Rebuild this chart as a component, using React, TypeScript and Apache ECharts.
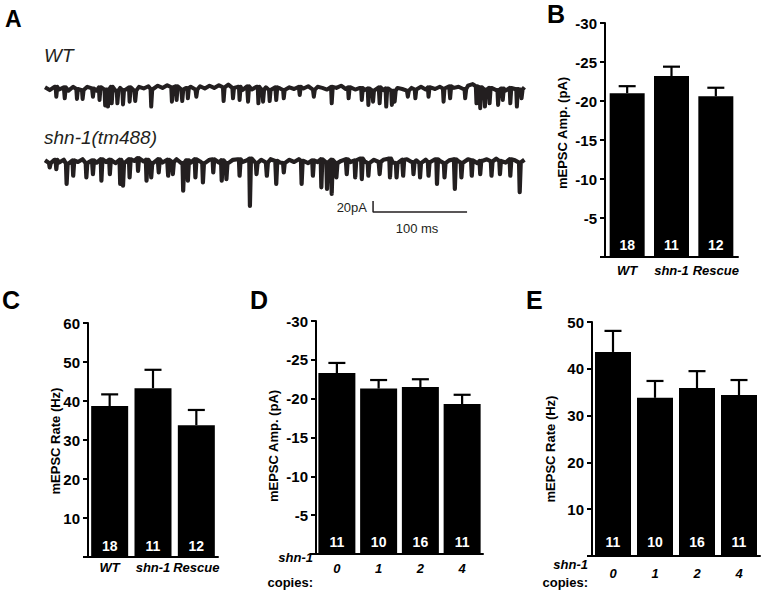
import React, { useEffect, useRef } from "react";
import * as echarts from "echarts";

const FONT = "'Liberation Sans', Arial, Helvetica, sans-serif";
const INK = "#231f20";

// ---------- Panel A: current traces (ms, pA) ----------
const traceSampleMs = 5;
const wtBaseline = [
  3, -2, 4, -1, 3, -3, 4, 0, -2, 4, 1,
  -3, 3, -1, 4, -3, 2, -2, 3, -3, 4,
  1, 5, 0, 6, 2, 7, 3, 5, -1, 2,
  4, -1, 5, 1, 6, 2, 7, 3, 8, 2,
  4, -2, 5, -1, 4, -1, 3, -2, 3, 1,
  -2, 3, 0, 4, 1, 5, -1, 4, 2, -1,
  4, 2, 6, 0, 3, -1, 2, -2, 1, -3,
  3, -2, 1, -3, 2, 0, -3, 2, -1, 4,
  -1, 3, 0, 4, 1, 5, 2, 4, 0, 6,
  9, 5, 3, -1, 2, -2, 1, -3, 2, 0,
  -1, 3,
];
const wtSpikeTimes = [
  12, 21, 34, 40, 51, 58, 64, 67, 71, 77, 83, 90, 96, 113, 135, 140, 146, 152, 161,
  190, 200, 207, 216, 227, 232, 239, 246, 254, 271, 286, 305, 323, 337, 344, 349,
  356, 363, 369, 372, 386, 394, 408, 424, 431, 447, 459, 463, 468, 473, 482, 487,
  495, 502, 507,
];
const wtSpikeDepths = [
  14, 17, 18, 18, 14, 20, 30, 32, 26, 26, 28, 23, 22, 32, 23, 20, 22, 17, 14,
  22, 17, 20, 23, 26, 23, 22, 20, 17, 11, 14, 26, 17, 20, 29, 23,
  26, 32, 29, 23, 14, 17, 14, 23, 17, 17, 26, 35, 32, 26, 29, 20,
  26, 32, 17,
];
const shnBaseline = [
  3, -2, 4, -1, 4, -3, 3, 0, 5, -2, 3,
  -1, 5, 0, 4, -2, 4, -1, 5, 2, 7,
  1, 4, -2, 5, -1, 4, 0, 5, -2, 3,
  -1, 5, 1, -2, 4, 5, -1, 3, -2, 4,
  5, 0, 3, 6, -2, 4, -1, 5, 2, -1,
  -2, 4, 0, 5, 2, -2, 3, 0, 5, -1,
  4, -2, 2, 5, 0, 3, 6, 1, -2, 4,
  0, 4, 6, -1, -2, 4, 5, 0, 3, -2,
  4, 0, 5, 2, -2, 3, 5, 1, -1, 5,
  3, -2, 2, 5, 1, 6, 2, -1, 5, 3,
  -1, 4,
];
const shnSpikeTimes = [
  5, 12, 23, 30, 44, 51, 60, 69, 80, 83, 90, 99, 108, 113, 121, 131, 136, 147, 152,
  160, 168, 179, 188, 193, 207, 218, 225, 236, 246, 254, 273, 285, 294, 300, 305,
  310, 321, 330, 337, 344, 356, 367, 374, 381, 392, 399, 408, 417, 425, 436, 443,
  454, 463, 475, 484, 495, 505,
];
const shnSpikeDepths = [
  10, 13, 40, 25, 28, 22, 34, 22, 40, 43, 28, 16, 34, 28, 19, 25, 22, 52, 34,
  28, 37, 19, 34, 31, 25, 80, 22, 25, 40, 19, 40, 25, 46, 49, 58,
  28, 22, 28, 31, 25, 22, 28, 28, 25, 22, 28, 25, 40, 28, 49, 28,
  25, 22, 25, 22, 25, 55,
];
const scaleBarTimes = [349, 349, 449];
const scaleBarCurrents = [-71, -91, -91];

// ---------- Panel B ----------
const bCategories = ["WT", "shn-1", "Rescue"];
const bAmp = [-21.0, -23.2, -20.6];
const bAmpSem = [0.9, 1.2, 1.1];
const bN = [18, 11, 12];

// ---------- Panel C ----------
const cCategories = ["WT", "shn-1", "Rescue"];
const cRate = [38.7, 43.3, 33.8];
const cRateSem = [3.0, 4.7, 3.9];
const cN = [18, 11, 12];

// ---------- Panel D ----------
const dCopies = ["0", "1", "2", "4"];
const dAmp = [-23.3, -21.3, -21.5, -19.3];
const dAmpSem = [1.3, 1.1, 1.0, 1.2];
const dN = [11, 10, 16, 11];

// ---------- Panel E ----------
const eCopies = ["0", "1", "2", "4"];
const eRate = [43.6, 33.8, 35.9, 34.4];
const eRateSem = [4.5, 3.6, 3.6, 3.2];
const eN = [11, 10, 16, 11];

function buildTrace(baseline: number[], times: number[], depths: number[]) {
  const pts: number[][] = baseline.map((v, i) => [i * traceSampleMs, v]);
  times.forEach((t, k) => {
    const b = baseline[Math.min(baseline.length - 1, Math.round(t / traceSampleMs))];
    pts.push([t - 0.7, b], [t, -depths[k]], [t + 1.1, b]);
  });
  pts.sort((a, b) => a[0] - b[0]);
  return pts;
}

type PanelCfg = {
  idx: number;
  cats: string[];
  vals: number[];
  sems: number[];
  ns: number[];
  grid: { left: number; top: number; width: number; height: number };
  min: number;
  max: number;
  interval: number;
  inverse: boolean;
  barWidth: number;
  labelMargin: number;
  labelSize: number;
  countDist: number;
};

function barPanel(c: PanelCfg) {
  const axisLine = { show: true, lineStyle: { color: "#000", width: 2 } };
  const grid = { ...c.grid, containLabel: false };
  const xAxis = {
    type: "category",
    gridIndex: c.idx,
    data: c.cats,
    axisLine,
    axisTick: { show: false },
    axisLabel: {
      interval: 0,
      margin: c.labelMargin,
      color: "#000",
      fontFamily: FONT,
      fontStyle: "italic",
      fontWeight: "bold",
      fontSize: c.labelSize,
    },
    splitLine: { show: false },
  };
  const yAxis = {
    type: "value",
    gridIndex: c.idx,
    min: c.min,
    max: c.max,
    interval: c.interval,
    inverse: c.inverse,
    axisLine,
    axisTick: { show: true, inside: false, length: 5, lineStyle: { color: "#000", width: 2 } },
    axisLabel: {
      margin: 8,
      color: "#000",
      fontFamily: FONT,
      fontWeight: "bold",
      fontSize: 15,
      formatter: (v: number) => (v === 0 ? "" : String(v)),
    },
    splitLine: { show: false },
  };
  const bars = {
    type: "bar",
    xAxisIndex: c.idx,
    yAxisIndex: c.idx,
    data: c.vals,
    barWidth: c.barWidth,
    itemStyle: { color: "#000" },
    label: {
      show: true,
      position: "insideBottom",
      distance: c.countDist,
      color: "#fff",
      fontFamily: FONT,
      fontWeight: "bold",
      fontSize: 14,
      formatter: (p: any) => String(c.ns[p.dataIndex]),
    },
  };
  const errs = {
    type: "custom",
    xAxisIndex: c.idx,
    yAxisIndex: c.idx,
    data: c.vals.map((v, i) => [i, v, v + Math.sign(v) * c.sems[i]]),
    renderItem: (_p: any, api: any) => {
      const base = api.coord([api.value(0), api.value(1)]);
      const top = api.coord([api.value(0), api.value(2)]);
      return {
        type: "group",
        children: [
          {
            type: "line",
            shape: { x1: base[0], y1: base[1], x2: top[0], y2: top[1] },
            style: { stroke: "#000", lineWidth: 2.2 },
          },
          {
            type: "line",
            shape: { x1: top[0] - 8.5, y1: top[1], x2: top[0] + 8.5, y2: top[1] },
            style: { stroke: "#000", lineWidth: 2.2 },
          },
        ],
      };
    },
  };
  return { grid, xAxis, yAxis, series: [bars, errs] };
}

function txt(
  text: string,
  x: number,
  y: number,
  size: number,
  opts: { weight?: string; italic?: boolean; align?: string; vAlign?: string; rotation?: number; fill?: string } = {}
) {
  const align = opts.align || "left";
  const vAlign = opts.vAlign || "middle";
  return {
    type: "text",
    x,
    y,
    rotation: opts.rotation || 0,
    silent: true,
    style: {
      text,
      fill: opts.fill || "#000",
      font: `${opts.italic ? "italic " : ""}${opts.weight || "normal"} ${size}px ${FONT}`,
      align,
      verticalAlign: vAlign,
      textAlign: align,
      textVerticalAlign: vAlign,
    },
  };
}

export default function App() {
  const ref = useRef<HTMLDivElement>(null);
  useEffect(() => {
    if (!ref.current) return;
    const chart = echarts.init(ref.current, undefined, { renderer: "svg" });

    const panels = [
      barPanel({
        idx: 2, cats: bCategories, vals: bAmp, sems: bAmpSem, ns: bN,
        grid: { left: 605, top: 23, width: 133, height: 234 },
        min: -30, max: 0, interval: 5, inverse: true, barWidth: 35,
        labelMargin: 7, labelSize: 13, countDist: 5,
      }),
      barPanel({
        idx: 3, cats: cCategories, vals: cRate, sems: cRateSem, ns: cN,
        grid: { left: 88, top: 323, width: 130, height: 234 },
        min: 0, max: 60, interval: 10, inverse: false, barWidth: 37,
        labelMargin: 4, labelSize: 13, countDist: 4,
      }),
      barPanel({
        idx: 4, cats: dCopies, vals: dAmp, sems: dAmpSem, ns: dN,
        grid: { left: 316, top: 321, width: 167, height: 233 },
        min: -30, max: 0, interval: 5, inverse: true, barWidth: 37,
        labelMargin: 8, labelSize: 13, countDist: 5,
      }),
      barPanel({
        idx: 5, cats: eCopies, vals: eRate, sems: eRateSem, ns: eN,
        grid: { left: 592, top: 322, width: 168, height: 234 },
        min: 0, max: 50, interval: 10, inverse: false, barWidth: 36,
        labelMargin: 11, labelSize: 13, countDist: 7,
      }),
    ];

    const hiddenX = (gi: number) => ({ type: "value", gridIndex: gi, min: 0, max: 510, show: false });
    const wtData = buildTrace(wtBaseline, wtSpikeTimes, wtSpikeDepths);
    const shnData = buildTrace(shnBaseline, shnSpikeTimes, shnSpikeDepths);
    const scaleData = scaleBarTimes.map((t, i) => [t, scaleBarCurrents[i]]);

    const option: any = {
      animation: false,
      backgroundColor: "#fff",
      grid: [
        { left: 45, top: 78, width: 479.4, height: 38.5 },
        { left: 45, top: 151, width: 479.4, height: 66 },
        ...panels.map((p) => p.grid),
      ],
      xAxis: [hiddenX(0), hiddenX(1), ...panels.map((p) => p.xAxis)],
      yAxis: [
        { type: "value", gridIndex: 0, min: -50, max: 20, show: false },
        { type: "value", gridIndex: 1, min: -100, max: 20, show: false },
        ...panels.map((p) => p.yAxis),
      ],
      series: [
        {
          type: "line", xAxisIndex: 0, yAxisIndex: 0, data: wtData, showSymbol: false,
          clip: false, lineStyle: { color: INK, width: 4, join: "round" },
        },
        {
          type: "line", xAxisIndex: 1, yAxisIndex: 1, data: shnData, showSymbol: false,
          clip: false, lineStyle: { color: INK, width: 4.2, join: "round" },
        },
        {
          type: "line", xAxisIndex: 1, yAxisIndex: 1, data: scaleData, showSymbol: false,
          clip: false, lineStyle: { color: INK, width: 1.5 },
        },
        ...panels.flatMap((p) => p.series),
      ],
      graphic: [
        txt("A", 5, 19, 23, { weight: "bold" }),
        txt("B", 547, 14, 25, { weight: "bold" }),
        txt("C", 2, 300, 25, { weight: "bold" }),
        txt("D", 250, 300, 25, { weight: "bold" }),
        txt("E", 526, 300, 25, { weight: "bold" }),
        txt("WT", 44, 55, 19, { italic: true, fill: INK }),
        txt("shn-1(tm488)", 44, 137, 19, { italic: true, fill: INK }),
        txt("20pA", 367, 207, 13, { align: "right", fill: INK }),
        txt("100 ms", 417, 228, 13, { align: "center", fill: INK }),
        txt("mEPSC Amp. (pA)", 562, 133, 13, { weight: "bold", align: "center", rotation: Math.PI / 2 }),
        txt("mEPSC Rate (Hz)", 55, 441, 13, { weight: "bold", align: "center", rotation: Math.PI / 2 }),
        txt("mEPSC Amp. (pA)", 273, 446, 13, { weight: "bold", align: "center", rotation: Math.PI / 2 }),
        txt("mEPSC Rate (Hz)", 550, 449, 13, { weight: "bold", align: "center", rotation: Math.PI / 2 }),
        txt("shn-1", 313, 557, 13, { weight: "bold", italic: true, align: "right" }),
        txt("copies:", 313, 582, 13, { weight: "bold", align: "right" }),
        txt("shn-1", 588, 564, 13, { weight: "bold", italic: true, align: "right" }),
        txt("copies:", 588, 582, 13, { weight: "bold", align: "right" }),
      ],
    };
    chart.setOption(option);
    return () => chart.dispose();
  }, []);

  return (
    <div
      ref={ref}
      style={{ position: "fixed", left: 0, top: 0, width: 764, height: 592, background: "#fff" }}
    />
  );
}
